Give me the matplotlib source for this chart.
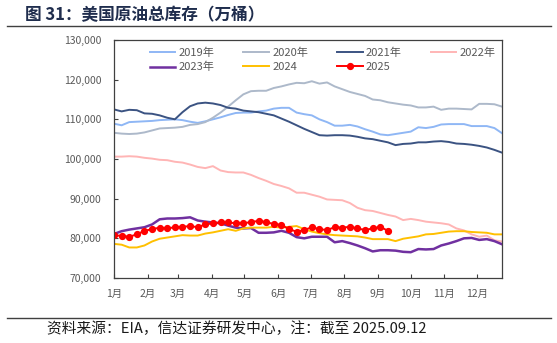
'''
    US crude oil total inventory, weekly, by year (10k barrels)
'''

# - Imports

import matplotlib
matplotlib.use("Agg")
import matplotlib.pyplot as plt
from matplotlib.ticker import FuncFormatter
from matplotlib.lines import Line2D

plt.rcParams['font.family'] = ['Noto Sans CJK SC', 'DejaVu Sans']

# - Data (weekly values, 10k barrels)

weeks = list(range(52))

stock_2019 = [108900, 108500, 109300, 109400, 109500, 109600, 109800, 109900, 110000, 109800,
              109400, 109100, 109500, 110000, 110500, 111100, 111600, 111700, 111700, 112000,
              112200, 112700, 112900, 112900, 111700, 111300, 111000, 110000, 109300, 108400,
              108400, 108600, 108200, 107500, 106900, 106200, 106000, 106300, 106600, 106900,
              108000, 107800, 108100, 108700, 108800, 108800, 108800, 108300, 108300, 108300,
              107800, 106500]

stock_2020 = [106600, 106400, 106300, 106400, 106700, 107200, 107700, 107800, 107900, 108100,
              108600, 108800, 109300, 110400, 111700, 113200, 114800, 116300, 117100, 117200,
              117200, 117900, 118300, 118800, 119200, 119100, 119600, 119000, 119300, 118300,
              117600, 116900, 116400, 115900, 115000, 114800, 114300, 114000, 113700, 113500,
              113000, 113000, 113200, 112400, 112700, 112700, 112600, 112500, 113900, 113900,
              113800, 113200]

stock_2021 = [112500, 112000, 112400, 112300, 111500, 111400, 111000, 110400, 110000, 111800,
              113300, 114000, 114200, 114000, 113600, 112900, 112700, 112200, 112000, 111800,
              111400, 111000, 110200, 109400, 108500, 107600, 106800, 106000, 105900, 106000,
              106000, 105900, 105600, 105200, 105000, 104600, 104200, 103500, 103800, 103900,
              104200, 104200, 104400, 104500, 104300, 103900, 103800, 103600, 103300, 102900,
              102300, 101600]

stock_2022 = [100600, 100600, 100700, 100600, 100300, 100100, 99800, 99700, 99300, 99100,
              98600, 98000, 97700, 98200, 97100, 96700, 96600, 96600, 96000, 95200,
              94500, 93700, 93200, 92600, 91500, 91500, 91000, 90500, 89800, 89700,
              89600, 88900, 87700, 87100, 86900, 86400, 85900, 85500, 84600, 84900,
              84600, 84200, 84000, 83800, 83500, 82500, 82000, 81000, 80400, 80700,
              79500, 79200]

stock_2023 = [81100, 81800, 82200, 82500, 82800, 83500, 84800, 85000, 85000, 85100,
              85300, 84500, 84200, 84000, 83800, 83200, 82700, 82500, 82600, 81400,
              81400, 81500, 81900, 81400, 80300, 80000, 80400, 80400, 80400, 79000,
              79300, 78800, 78200, 77500, 76700, 77000, 77000, 76900, 76600, 76500,
              77300, 77200, 77300, 78200, 78700, 79300, 80000, 80100, 79600, 79800,
              79300, 78500]

stock_2024 = [78600, 78400, 77700, 77700, 78200, 79200, 79900, 80200, 80500, 80800,
              80700, 80700, 81200, 81500, 81900, 82300, 81900, 82500, 82700, 82700,
              82700, 82900, 82700, 82900, 83100, 82300, 81700, 81300, 81000, 80800,
              80700, 80600, 80500, 80200, 79800, 79800, 79800, 79300, 79900, 80200,
              80500, 81000, 81100, 81400, 81700, 81800, 81800, 81600, 81500, 81400,
              81000, 81000]

stock_2025 = [80800, 80600, 80400, 81000, 81900, 82300, 82700, 82500, 82800, 82900,
              83100, 82800, 83500, 83800, 84000, 84000, 83800, 83800, 84100, 84400,
              84100, 83600, 83400, 82300, 81700, 82100, 82800, 82300, 82100, 82800,
              82700, 82900, 82500, 82100, 82500, 82900, 81900]

month_days = [0, 31, 59, 90, 120, 151, 181, 212, 243, 273, 304, 334]
month_labels = ["1月", "2月", "3月", "4月", "5月", "6月", "7月", "8月", "9月", "10月", "11月", "12月"]

# - Plot

def main():
    '''Main'''

    fig = plt.figure(figsize=(5.57, 3.43), dpi=100)
    axes = fig.add_axes([0.2047, 0.1895, 0.6966, 0.6939])

    grey = "#595959"

    axes.plot(weeks, stock_2019, color="#8FB7F5", lw=1.4, label="2019年")
    axes.plot(weeks, stock_2020, color="#ADB9CA", lw=1.4, label="2020年")
    axes.plot(weeks, stock_2021, color="#3B5382", lw=1.4, label="2021年")
    axes.plot(weeks, stock_2022, color="#FFB5B5", lw=1.4, label="2022年")
    axes.plot(weeks, stock_2023, color="#7030A0", lw=1.8, label="2023年")
    axes.plot(weeks, stock_2024, color="#FFC000", lw=1.4, label="2024")
    axes.plot(weeks[:len(stock_2025)], stock_2025, color="#FF0000", lw=1.4,
              marker="o", markersize=4.2, label="2025")

    axes.set_xlim(0, 51)
    axes.set_ylim(70000, 130000)
    axes.set_yticks(range(70000, 130001, 10000))
    axes.yaxis.set_major_formatter(FuncFormatter(lambda v, p: f"{v:,.0f}"))
    axes.set_xticks([d / 7 for d in month_days])
    axes.set_xticklabels(month_labels)

    axes.tick_params(axis="both", colors="#404040", labelcolor=grey, labelsize=7.5,
                     direction="in", length=3, width=0.8)
    axes.tick_params(axis="y", pad=9)
    axes.tick_params(axis="x", pad=8)
    for spine in axes.spines.values():
        spine.set_color("#404040")
        spine.set_linewidth(0.9)

    # Legend laid out row by row
    handles, labels = axes.get_legend_handles_labels()
    order = [0, 4, 1, 5, 2, 6, 3]
    axes.legend([handles[i] for i in order], [labels[i] for i in order],
                ncol=4, loc="upper left", bbox_to_anchor=(0.072, 1.0),
                frameon=False, fontsize=8, labelcolor=grey, handlelength=2.3,
                handletextpad=0.3, columnspacing=2.6, borderaxespad=0.3,
                labelspacing=0.35)

    # Title and source
    fig.text(0.045, 0.955, "图 31：美国原油总库存（万桶）", fontsize=12, fontweight="bold",
             color="#1F2D4D", va="center", ha="left")
    fig.add_artist(Line2D([0.012, 0.99], [0.924, 0.924], color="#404040", lw=1.0))
    fig.add_artist(Line2D([0.012, 0.99], [0.073, 0.073], color="#404040", lw=1.0))
    fig.text(0.085, 0.042, "资料来源：EIA，信达证券研发中心，注：截至 2025.09.12",
             fontsize=10.6, style="italic", color="#1a1a1a", va="center", ha="left")

    fig.savefig("out.png", dpi=100)


# - Main

if __name__ == "__main__":
    main()
